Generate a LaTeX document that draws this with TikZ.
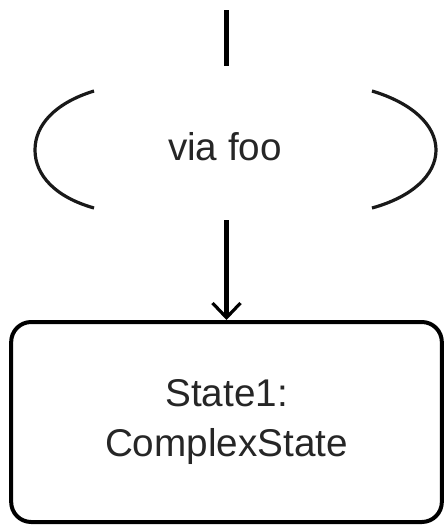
\documentclass[tikz,border=0pt]{standalone}
\usepackage{fontspec}
\setmainfont{Liberation Sans}
\usetikzlibrary{arrows.meta}
\begin{document}
\begin{tikzpicture}[x=0.75pt,y=-0.75pt,
  conn/.style={line width=3.4pt,black},
  arc/.style={line width=2.4pt,black!90},
  statebox/.style={draw,line width=3pt,rounded corners=15pt,minimum width=323pt,minimum height=150pt,align=center,font=\fontsize{29}{37.5}\selectfont,text=black!85},
  lbl/.style={font=\fontsize{29}{35}\selectfont,text=black!85}]
\fill[white] (0,0) rectangle (445,525);
\useasboundingbox (0,0) rectangle (445,525);
\node[statebox] (box) at (226.5,422) {State1:\\ComplexState};
\node[lbl] (via) at (225,147) {via foo};
\coordinate (top) at (226.5,10);
\coordinate (topend) at (226.5,66);
\coordinate (bstart) at (226.5,220);
\draw[conn] (top) -- (topend);
\draw[conn,-{Straight Barb[length=11pt,width=21pt,line width=2.4pt]}] (bstart) -- (box.north);
\draw[arc] (94,91) .. controls (55,103) and (35,125) .. (35,150) .. controls (35,175) and (55,197) .. (94,208);
\draw[arc] (372,91) .. controls (412,103) and (436,125) .. (436,150) .. controls (436,175) and (412,197) .. (372,208);
\end{tikzpicture}
\end{document}
